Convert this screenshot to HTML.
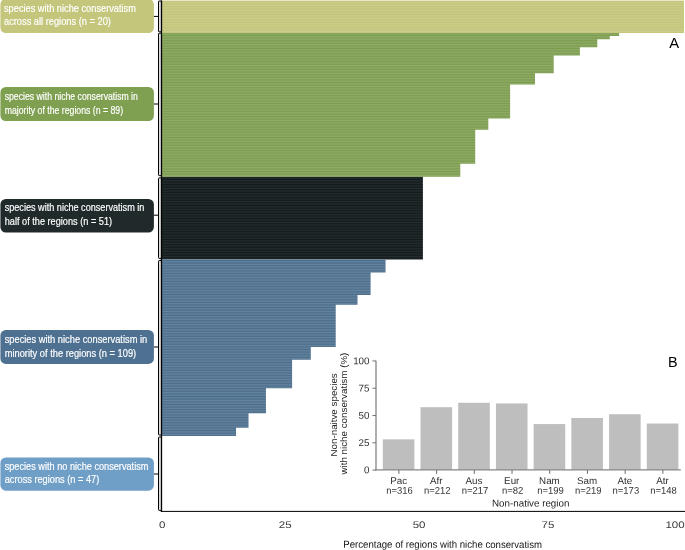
<!DOCTYPE html>
<html><head><meta charset="utf-8"><title>Figure</title>
<style>html,body{margin:0;padding:0;background:#fff;overflow:hidden}svg{display:block;will-change:transform}</style>
</head><body>
<svg width="685" height="550" viewBox="0 0 685 550" font-family="'Liberation Sans', sans-serif">
<defs><pattern id="st" x="0" y="0.3500" width="700" height="1.6185" patternUnits="userSpaceOnUse"><rect x="0" y="0" width="700" height="0.5" fill="#fff" fill-opacity="0.24"/></pattern><pattern id="sd" x="0" y="0.3500" width="700" height="1.6185" patternUnits="userSpaceOnUse"><rect x="0" y="0" width="700" height="0.5" fill="#fff" fill-opacity="0.13"/></pattern></defs>
<rect width="685" height="550" fill="#fff"/>
<polygon points="160.80,32.75 619.10,32.75 619.10,35.99 609.76,35.99 609.76,39.22 597.30,39.22 597.30,47.32 579.86,47.32 579.86,55.41 553.70,55.41 553.70,73.21 535.01,73.21 535.01,84.54 510.10,84.54 510.10,118.53 488.30,118.53 488.30,129.86 475.22,129.86 475.22,163.85 460.27,163.85 460.27,176.80 160.80,176.80" fill="#7c9d4e"/>
<rect x="160.8" y="0.6" width="523.2" height="32.4" fill="#c2c578"/>
<rect x="160.8" y="176.85" width="262.10" height="82.65" fill="#121a1b"/>
<polygon points="160.80,259.50 385.53,259.50 385.53,272.45 370.58,272.45 370.58,295.11 357.50,295.11 357.50,304.82 335.70,304.82 335.70,346.90 310.79,346.90 310.79,359.85 292.10,359.85 292.10,388.33 265.94,388.33 265.94,413.26 248.50,413.26 248.50,427.82 236.04,427.82 236.04,435.92 160.80,435.92" fill="#4b6e8c"/>
<rect x="161.3" y="0.6" width="522.7" height="32.4" fill="url(#st)"/>
<polygon points="160.80,32.75 619.10,32.75 619.10,35.99 609.76,35.99 609.76,39.22 597.30,39.22 597.30,47.32 579.86,47.32 579.86,55.41 553.70,55.41 553.70,73.21 535.01,73.21 535.01,84.54 510.10,84.54 510.10,118.53 488.30,118.53 488.30,129.86 475.22,129.86 475.22,163.85 460.27,163.85 460.27,176.80 160.80,176.80" fill="url(#st)"/>
<rect x="161.3" y="176.85" width="261.60" height="82.65" fill="url(#sd)"/>
<polygon points="160.80,259.50 385.53,259.50 385.53,272.45 370.58,272.45 370.58,295.11 357.50,295.11 357.50,304.82 335.70,304.82 335.70,346.90 310.79,346.90 310.79,359.85 292.10,359.85 292.10,388.33 265.94,388.33 265.94,413.26 248.50,413.26 248.50,427.82 236.04,427.82 236.04,435.92 160.80,435.92" fill="url(#st)"/>
<rect x="158.5" y="1.0" width="3.0" height="30.8" fill="#dedede"/>
<path d="M161.5,1.0 H159.1 Q158.5,1.0 158.5,1.8 V31.0 Q158.5,31.8 159.1,31.8 H161.5" fill="none" stroke="#000" stroke-width="1.0"/>
<rect x="158.5" y="33.2" width="3.0" height="142.39999999999998" fill="#dedede"/>
<path d="M161.5,33.2 H159.1 Q158.5,33.2 158.5,34.0 V174.79999999999998 Q158.5,175.6 159.1,175.6 H161.5" fill="none" stroke="#000" stroke-width="1.0"/>
<rect x="158.5" y="177.9" width="3.0" height="80.49999999999997" fill="#dedede"/>
<path d="M161.5,177.9 H159.1 Q158.5,177.9 158.5,178.70000000000002 V257.59999999999997 Q158.5,258.4 159.1,258.4 H161.5" fill="none" stroke="#000" stroke-width="1.0"/>
<rect x="158.5" y="260.6" width="3.0" height="174.39999999999998" fill="#dedede"/>
<path d="M161.5,260.6 H159.1 Q158.5,260.6 158.5,261.40000000000003 V434.2 Q158.5,435.0 159.1,435.0 H161.5" fill="none" stroke="#000" stroke-width="1.0"/>
<rect x="158.5" y="437.0" width="3.0" height="73.39999999999998" fill="#dedede"/>
<path d="M161.5,437.0 H159.1 Q158.5,437.0 158.5,437.8 V509.59999999999997 Q158.5,510.4 159.1,510.4 H161.5" fill="none" stroke="#000" stroke-width="1.0"/>
<line x1="161.5" y1="0.5" x2="161.5" y2="511.95" stroke="#000" stroke-width="1.3"/>
<line x1="160.9" y1="511.4" x2="685" y2="511.4" stroke="#000" stroke-width="1.0"/>
<rect x="0.4" y="-1" width="153.5" height="34.0" rx="5.5" ry="5.5" fill="#c3c67b"/>
<line x1="153.9" y1="16.4" x2="158.5" y2="16.4" stroke="#000" stroke-width="1.0"/>
<text x="4.0" y="12.1" font-size="10.5" fill="#fff" stroke="#fff" stroke-width="0.18" textLength="131.9" lengthAdjust="spacingAndGlyphs">species with niche conservatism</text>
<text x="4.0" y="25.0" font-size="10.5" fill="#fff" stroke="#fff" stroke-width="0.18" textLength="106.9" lengthAdjust="spacingAndGlyphs">across all regions (n = 20)</text>
<rect x="0.4" y="87" width="153.5" height="34.0" rx="5.5" ry="5.5" fill="#7f9f51"/>
<line x1="153.9" y1="104" x2="158.5" y2="104" stroke="#000" stroke-width="1.0"/>
<text x="4.7" y="99.9" font-size="10.5" fill="#fff" stroke="#fff" stroke-width="0.18" textLength="133.2" lengthAdjust="spacingAndGlyphs">species with niche conservatism in</text>
<text x="4.7" y="113.7" font-size="10.5" fill="#fff" stroke="#fff" stroke-width="0.18" textLength="118.4" lengthAdjust="spacingAndGlyphs">majority of the regions (n = 89)</text>
<rect x="0.4" y="198.9" width="153.5" height="33.7" rx="5.5" ry="5.5" fill="#202a2b"/>
<line x1="153.9" y1="215.2" x2="158.5" y2="215.2" stroke="#000" stroke-width="1.0"/>
<text x="4.7" y="211.1" font-size="10.5" fill="#fff" stroke="#fff" stroke-width="0.18" textLength="139.7" lengthAdjust="spacingAndGlyphs">species with niche conservatism in</text>
<text x="4.7" y="224.8" font-size="10.5" fill="#fff" stroke="#fff" stroke-width="0.18" textLength="107.4" lengthAdjust="spacingAndGlyphs">half of the regions (n = 51)</text>
<rect x="0.4" y="330" width="153.5" height="33.9" rx="5.5" ry="5.5" fill="#4f7191"/>
<line x1="153.9" y1="347.0" x2="158.5" y2="347.0" stroke="#000" stroke-width="1.0"/>
<text x="4.7" y="342.9" font-size="10.5" fill="#fff" stroke="#fff" stroke-width="0.18" textLength="142.5" lengthAdjust="spacingAndGlyphs">species with niche conservatism in</text>
<text x="4.7" y="356.6" font-size="10.5" fill="#fff" stroke="#fff" stroke-width="0.18" textLength="131.5" lengthAdjust="spacingAndGlyphs">minority of the regions (n = 109)</text>
<rect x="0.4" y="457.4" width="153.5" height="33.3" rx="5.5" ry="5.5" fill="#6f9ec6"/>
<line x1="153.9" y1="474.0" x2="158.5" y2="474.0" stroke="#000" stroke-width="1.0"/>
<text x="4.7" y="469.5" font-size="10.5" fill="#fff" stroke="#fff" stroke-width="0.18" textLength="143.7" lengthAdjust="spacingAndGlyphs">species with no niche conservatism</text>
<text x="4.7" y="483.3" font-size="10.5" fill="#fff" stroke="#fff" stroke-width="0.18" textLength="94.6" lengthAdjust="spacingAndGlyphs">across regions (n = 47)</text>
<text x="669.2" y="47.9" font-size="15.1" fill="#000" textLength="9.9" lengthAdjust="spacingAndGlyphs">A</text>
<text x="668.1" y="366.7" font-size="15.4" fill="#000" textLength="9.6" lengthAdjust="spacingAndGlyphs">B</text>
<text transform="translate(162.3,528.1) rotate(0.05) scale(1.2,1)" font-size="9.6" fill="#383838" text-anchor="middle">0</text>
<text transform="translate(285.2,528.1) rotate(0.05) scale(1.2,1)" font-size="9.6" fill="#383838" text-anchor="middle">25</text>
<text transform="translate(419.1,528.1) rotate(0.05) scale(1.2,1)" font-size="9.6" fill="#383838" text-anchor="middle">50</text>
<text transform="translate(548,528.1) rotate(0.05) scale(1.2,1)" font-size="9.6" fill="#383838" text-anchor="middle">75</text>
<text transform="translate(675.0,528.1) rotate(0.05) scale(1.2,1)" font-size="9.6" fill="#383838" text-anchor="middle">100</text>
<text transform="translate(343.3,547.8) rotate(0.03) scale(0.943,1)" font-size="10.2" fill="#111">Percentage of regions with niche conservatism</text>
<rect x="382.80" y="439.35" width="31.6" height="30.45" fill="#bebebe"/>
<line x1="398.90" y1="469.8" x2="398.90" y2="473.8" stroke="#555" stroke-width="0.9"/>
<text transform="translate(398.60,483.9) rotate(0.05) scale(1.0,1)" font-size="9.8" fill="#303030" text-anchor="middle">Pac</text>
<text transform="translate(399.60,493.8) rotate(0.05) scale(0.965,1)" font-size="9.8" fill="#303030" text-anchor="middle">n=316</text>
<rect x="420.51" y="407.20" width="31.6" height="62.60" fill="#bebebe"/>
<line x1="436.61" y1="469.8" x2="436.61" y2="473.8" stroke="#555" stroke-width="0.9"/>
<text transform="translate(436.31,483.9) rotate(0.05) scale(1.0,1)" font-size="9.8" fill="#303030" text-anchor="middle">Afr</text>
<text transform="translate(437.31,493.8) rotate(0.05) scale(0.965,1)" font-size="9.8" fill="#303030" text-anchor="middle">n=212</text>
<rect x="458.22" y="402.78" width="31.6" height="67.02" fill="#bebebe"/>
<line x1="474.32" y1="469.8" x2="474.32" y2="473.8" stroke="#555" stroke-width="0.9"/>
<text transform="translate(474.02,483.9) rotate(0.05) scale(1.0,1)" font-size="9.8" fill="#303030" text-anchor="middle">Aus</text>
<text transform="translate(475.02,493.8) rotate(0.05) scale(0.965,1)" font-size="9.8" fill="#303030" text-anchor="middle">n=217</text>
<rect x="495.93" y="403.44" width="31.6" height="66.36" fill="#bebebe"/>
<line x1="512.03" y1="469.8" x2="512.03" y2="473.8" stroke="#555" stroke-width="0.9"/>
<text transform="translate(511.73,483.9) rotate(0.05) scale(1.0,1)" font-size="9.8" fill="#303030" text-anchor="middle">Eur</text>
<text transform="translate(512.73,493.8) rotate(0.05) scale(0.965,1)" font-size="9.8" fill="#303030" text-anchor="middle">n=82</text>
<rect x="533.64" y="424.07" width="31.6" height="45.73" fill="#bebebe"/>
<line x1="549.74" y1="469.8" x2="549.74" y2="473.8" stroke="#555" stroke-width="0.9"/>
<text transform="translate(549.44,483.9) rotate(0.05) scale(1.0,1)" font-size="9.8" fill="#303030" text-anchor="middle">Nam</text>
<text transform="translate(550.44,493.8) rotate(0.05) scale(0.965,1)" font-size="9.8" fill="#303030" text-anchor="middle">n=199</text>
<rect x="571.35" y="417.95" width="31.6" height="51.85" fill="#bebebe"/>
<line x1="587.45" y1="469.8" x2="587.45" y2="473.8" stroke="#555" stroke-width="0.9"/>
<text transform="translate(587.15,483.9) rotate(0.05) scale(1.0,1)" font-size="9.8" fill="#303030" text-anchor="middle">Sam</text>
<text transform="translate(588.15,493.8) rotate(0.05) scale(0.965,1)" font-size="9.8" fill="#303030" text-anchor="middle">n=219</text>
<rect x="609.06" y="414.24" width="31.6" height="55.56" fill="#bebebe"/>
<line x1="625.16" y1="469.8" x2="625.16" y2="473.8" stroke="#555" stroke-width="0.9"/>
<text transform="translate(624.86,483.9) rotate(0.05) scale(1.0,1)" font-size="9.8" fill="#303030" text-anchor="middle">Ate</text>
<text transform="translate(625.86,493.8) rotate(0.05) scale(0.965,1)" font-size="9.8" fill="#303030" text-anchor="middle">n=173</text>
<rect x="646.77" y="423.52" width="31.6" height="46.28" fill="#bebebe"/>
<line x1="662.87" y1="469.8" x2="662.87" y2="473.8" stroke="#555" stroke-width="0.9"/>
<text transform="translate(662.57,483.9) rotate(0.05) scale(1.0,1)" font-size="9.8" fill="#303030" text-anchor="middle">Atr</text>
<text transform="translate(663.57,493.8) rotate(0.05) scale(0.965,1)" font-size="9.8" fill="#303030" text-anchor="middle">n=148</text>
<line x1="376.0" y1="360.65" x2="376.0" y2="470.40000000000003" stroke="#858585" stroke-width="1.3"/>
<line x1="375.4" y1="469.8" x2="680.8" y2="469.8" stroke="#858585" stroke-width="1.3"/>
<line x1="372.4" y1="470.10" x2="376.0" y2="470.10" stroke="#666" stroke-width="0.9"/>
<text transform="translate(369.5,473.35) rotate(0.05) scale(1.0,1)" font-size="9.8" fill="#303030" text-anchor="end">0</text>
<line x1="372.4" y1="442.81" x2="376.0" y2="442.81" stroke="#666" stroke-width="0.9"/>
<text transform="translate(369.5,446.06) rotate(0.05) scale(1.0,1)" font-size="9.8" fill="#303030" text-anchor="end">25</text>
<line x1="372.4" y1="415.53" x2="376.0" y2="415.53" stroke="#666" stroke-width="0.9"/>
<text transform="translate(369.5,418.78) rotate(0.05) scale(1.0,1)" font-size="9.8" fill="#303030" text-anchor="end">50</text>
<line x1="372.4" y1="388.24" x2="376.0" y2="388.24" stroke="#666" stroke-width="0.9"/>
<text transform="translate(369.5,391.49) rotate(0.05) scale(1.0,1)" font-size="9.8" fill="#303030" text-anchor="end">75</text>
<line x1="372.4" y1="360.95" x2="376.0" y2="360.95" stroke="#666" stroke-width="0.9"/>
<text transform="translate(369.5,364.20) rotate(0.05) scale(1.0,1)" font-size="9.8" fill="#303030" text-anchor="end">100</text>
<text transform="translate(530.7,506.5) rotate(0.05) scale(1.0,1)" font-size="9.8" fill="#222" text-anchor="middle">Non-native region</text>
<text transform="translate(336.9,414.9) rotate(-90) scale(1.0,1)" font-size="9.8" fill="#222" text-anchor="middle">Non-naitve species</text>
<text transform="translate(346.7,413.6) rotate(-90) scale(1.0,1)" font-size="9.8" fill="#222" text-anchor="middle">with niche conservatism (%)</text>
</svg>
</body></html>
